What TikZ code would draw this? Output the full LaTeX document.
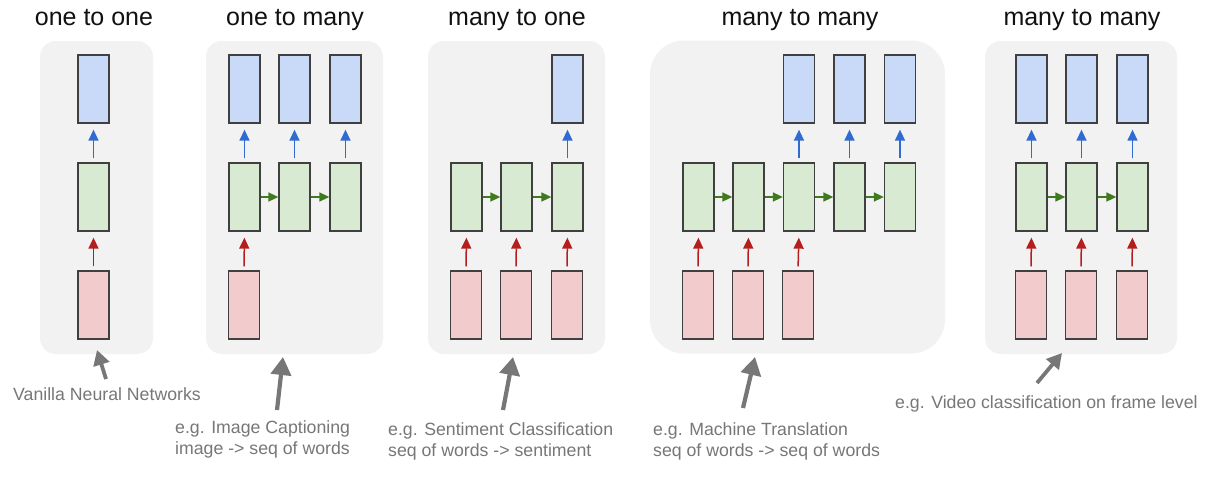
\documentclass[tikz,border=0pt]{standalone}
\usepackage{fontspec}
\setmainfont{Liberation Sans}
\usetikzlibrary{arrows.meta}
\definecolor{bgpanel}{HTML}{F2F2F2}
\definecolor{boxline}{HTML}{404040}
\definecolor{bluefill}{HTML}{C9DAF8}
\definecolor{greenfill}{HTML}{D9EAD3}
\definecolor{redfill}{HTML}{F2CCCC}
\definecolor{bluearr}{HTML}{2F6BD0}
\definecolor{greenarr}{HTML}{3F7A1E}
\definecolor{redarr}{HTML}{B51E1E}
\definecolor{annot}{HTML}{777777}
\definecolor{titlecol}{HTML}{111111}
\begin{document}
\begin{tikzpicture}[x=1pt,y=-1pt,
  panel/.style={rectangle, fill=bgpanel, rounded corners=16pt, minimum height=313pt, inner sep=0pt},
  cell/.style={rectangle, draw=boxline, line width=1.3pt, minimum width=31pt, minimum height=68pt, inner sep=0pt},
  outbox/.style={cell, fill=bluefill},
  hidbox/.style={cell, fill=greenfill},
  inbox/.style={cell, fill=redfill},
  vup/.style={line width=1.5pt, -{Triangle[length=11pt,width=10pt]}, shorten <=4pt, shorten >=6pt},
  bluea/.style={vup, draw=bluearr, fill=bluearr},
  reda/.style={vup, draw=redarr, fill=redarr},
  greena/.style={line width=1.5pt, draw=greenarr, -{Triangle[length=10pt,width=9pt,fill=greenarr]}},
  title/.style={anchor=base, text=titlecol, font=\fontsize{25}{30}\selectfont, inner sep=0pt},
  note/.style={anchor=base west, text=annot, font=\fontsize{17.7}{21}\selectfont, inner sep=0pt},
  pointer/.style={draw=annot, line width=4.2pt, -{Triangle[length=18pt,width=20pt,fill=annot]}},
  smallpointer/.style={draw=annot, line width=3.8pt, -{Triangle[length=15pt,width=16pt,fill=annot]}}
]
\useasboundingbox[fill=white] (0,0) rectangle (1209,493);

% panels
\node[panel, minimum width=113pt] (p1) at (96.5,197.5) {};
\node[panel, minimum width=177pt] (p2) at (294.5,197.5) {};
\node[panel, minimum width=177pt] (p3) at (516.5,197.5) {};
\node[panel, minimum width=295pt, rounded corners=34pt] (p4) at (797.5,197) {};
\node[panel, minimum width=192pt] (p5) at (1081,197.5) {};

% titles
\node[title] (t1) at (94,25) {one to one};
\node[title] (t2) at (295,25) {one to many};
\node[title] (t3) at (517,25) {many to one};
\node[title] (t4) at (800,25) {many to many};
\node[title] (t5) at (1082,25) {many to many};

% panel 1
\node[outbox] (o11) at (93.5,89) {};
\node[hidbox] (h11) at (93.5,197) {};
\node[inbox]  (i11) at (93.5,305) {};
\draw[bluea] (h11.north) -- (o11.south);
\draw[reda] (i11.north) -- (h11.south);

% panel 2
\foreach \k/\x in {1/244.5,2/294.5,3/345.5}{
  \node[outbox] (o2\k) at (\x,89) {};
  \node[hidbox] (h2\k) at (\x,197) {};
  \draw[bluea] (h2\k.north) -- (o2\k.south);
}
\node[inbox] (i21) at (244,305) {};
\draw[reda] (i21.north) -- (h21.south);
\draw[greena] (h21.east) -- (h22.west);
\draw[greena] (h22.east) -- (h23.west);

% panel 3
\foreach \k/\x in {1/466.5,2/516.5,3/567.5}{
  \node[hidbox] (h3\k) at (\x,197) {};
  \node[inbox] (i3\k) at (\x-0.5,305) {};
  \draw[reda] (i3\k.north) -- (h3\k.south);
}
\node[outbox] (o33) at (567.5,89) {};
\draw[bluea] (h33.north) -- (o33.south);
\draw[greena] (h31.east) -- (h32.west);
\draw[greena] (h32.east) -- (h33.west);

% panel 4
\foreach \k/\x in {1/698.5,2/748.5,3/799,4/849.5,5/900}{
  \node[hidbox] (h4\k) at (\x,197) {};
}
\foreach \k/\x in {1/698,2/748,3/798}{
  \node[inbox] (i4\k) at (\x,305) {};
  \draw[reda] (i4\k.north) -- (h4\k.south);
}
\foreach \k/\x in {3/799,4/849.5,5/900}{
  \node[outbox] (o4\k) at (\x,89) {};
  \draw[bluea] (h4\k.north) -- (o4\k.south);
}
\draw[greena] (h41.east) -- (h42.west);
\draw[greena] (h42.east) -- (h43.west);
\draw[greena] (h43.east) -- (h44.west);
\draw[greena] (h44.east) -- (h45.west);

% panel 5
\foreach \k/\x in {1/1031.5,2/1081.5,3/1132.5}{
  \node[outbox] (o5\k) at (\x,89) {};
  \node[hidbox] (h5\k) at (\x,197) {};
  \node[inbox]  (i5\k) at (\x-0.5,305) {};
  \draw[bluea] (h5\k.north) -- (o5\k.south);
  \draw[reda] (i5\k.north) -- (h5\k.south);
}
\draw[greena] (h51.east) -- (h52.west);
\draw[greena] (h52.east) -- (h53.west);

% annotations
\node[note] (n1) at (13,400) {Vanilla Neural Networks};
\node[note] (n2a) at (175,433) {e.g. Image Captioning};
\node[note] (n2b) at (175,454) {image -> seq of words};
\node[note] (n3a) at (388,435) {e.g. Sentiment Classification};
\node[note] (n3b) at (388,456) {seq of words -> sentiment};
\node[note] (n4a) at (653,435) {e.g. Machine Translation};
\node[note] (n4b) at (653,456) {seq of words -> seq of words};
\node[note] (n5) at (895,408) {e.g. Video classification on frame level};

% pointer arrows
\coordinate (s1) at (106,379); \coordinate (e1) at (97,350);
\coordinate (s2) at (277,410); \coordinate (e2) at (283,357);
\coordinate (s3) at (503,410); \coordinate (e3) at (513,357);
\coordinate (s4) at (743,408); \coordinate (e4) at (755,357);
\coordinate (s5) at (1037,383); \coordinate (e5) at (1062,353);
\draw[smallpointer] (s1) -- (e1);
\draw[pointer] (s2) -- (e2);
\draw[pointer] (s3) -- (e3);
\draw[pointer] (s4) -- (e4);
\draw[smallpointer] (s5) -- (e5);
\end{tikzpicture}
\end{document}
